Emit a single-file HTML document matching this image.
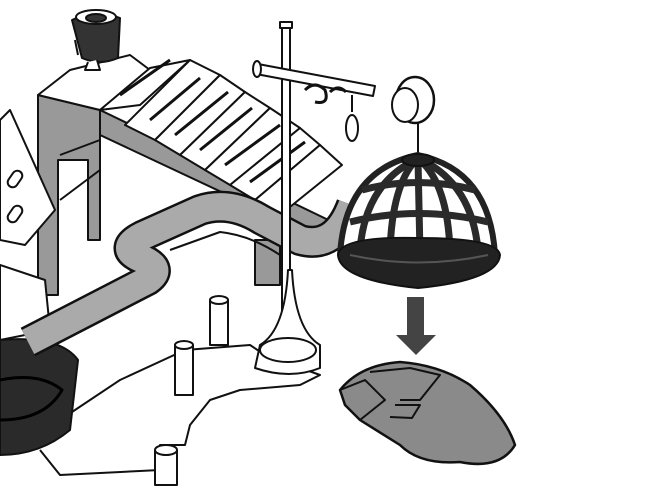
<!DOCTYPE html>
<html><head><style>html,body{margin:0;padding:0;background:#fff;width:660px;height:495px;overflow:hidden}</style></head>
<body>
<svg width="660" height="495" viewBox="0 0 660 495" xmlns="http://www.w3.org/2000/svg" stroke="#111" stroke-width="2" stroke-linejoin="round" fill="none">
<!-- staircase block -->
<polygon points="38,95 100,110 100,240 88,240 88,160 58,160 58,295 38,295" fill="#999"/>
<polygon points="100,110 345,228 345,250 100,135" fill="#999"/>
<path d="M60,155 L100,140 M60,200 L100,170"/>
<polygon points="38,95 70,70 130,55 150,70 100,110" fill="#fff"/>
<!-- steps -->
<g fill="#fff">
<polygon points="100,110 150,68 190,60 140,105 100,110"/>
<polygon points="125,125 190,60 220,75 155,140"/>
<polygon points="155,140 220,75 245,92 180,155"/>
<polygon points="180,155 245,92 270,108 205,170"/>
<polygon points="205,170 270,108 300,128 230,185"/>
<polygon points="230,185 300,128 320,145 255,200"/>
<polygon points="255,200 320,145 342,165 280,215"/>
</g>
<g stroke-width="3"><path d="M120,95 L170,60 M150,120 L200,78 M175,135 L228,92 M200,150 L252,108 M225,165 L280,125 M250,182 L305,142"/></g>
<rect x="255" y="240" width="25" height="45" fill="#999"/>
<!-- cup on top -->
<path d="M72,20 Q95,8 120,18 L118,58 Q100,66 82,58 Z" fill="#333"/>
<ellipse cx="96" cy="17" rx="20" ry="7" fill="#fff"/>
<ellipse cx="96" cy="18" rx="10" ry="4" fill="#333"/>
<path d="M78,55 L75,40 M88,62 L85,70 L100,70 L97,60" fill="#fff"/>
<!-- left roof -->
<polygon points="0,120 10,110 55,210 25,245 0,240" fill="#fff"/>
<rect x="10" y="170" width="10" height="18" rx="5" transform="rotate(35 15 179)" fill="#fff"/>
<rect x="10" y="205" width="10" height="18" rx="5" transform="rotate(35 15 214)" fill="#fff"/>
<polygon points="0,265 45,280 50,330 0,340" fill="#fff"/>
<!-- base frame -->
<path d="M60,420 L120,380 L185,350 L250,345 L265,355 L320,375 L300,385 L240,390 L210,400 L190,425 L185,445 L160,445 L160,470 L60,475 L40,450" fill="#fff"/>
<rect x="175" y="345" width="18" height="50" fill="#fff"/><ellipse cx="184" cy="345" rx="9" ry="4" fill="#fff"/>
<rect x="210" y="300" width="18" height="45" fill="#fff"/><ellipse cx="219" cy="300" rx="9" ry="4" fill="#fff"/>
<rect x="155" y="450" width="22" height="35" fill="#fff"/><ellipse cx="166" cy="450" rx="11" ry="5" fill="#fff"/>
<!-- bowl -->
<path d="M0,340 Q60,335 78,360 L70,430 Q40,455 0,455 Z" fill="#2a2a2a"/>
<path d="M0,380 Q40,372 62,390 Q45,420 0,420" stroke="#000" stroke-width="3"/>
<!-- chute -->
<path d="M28,342 L148,280 Q165,268 140,258 Q118,248 142,236 L200,210 Q230,200 262,220 L300,240 Q335,250 352,205" stroke="#111" stroke-width="32" stroke-linecap="butt"/>
<path d="M28,342 L148,280 Q165,268 140,258 Q118,248 142,236 L200,210 Q230,200 262,220 L300,240 Q335,250 352,205" stroke="#aaa" stroke-width="27" stroke-linecap="butt"/>
<path d="M170,250 L220,232 Q250,235 280,255" stroke="#111" stroke-width="2"/>
<!-- pole -->
<rect x="282" y="25" width="8" height="325" fill="#fff"/>
<rect x="280" y="22" width="12" height="6" fill="#fff"/>
<polygon points="258,64 375,86 373,96 256,74" fill="#fff"/>
<ellipse cx="257" cy="69" rx="4" ry="8" fill="#fff"/>
<path d="M305,90 q10,-10 20,0 q5,15 -10,12 M330,92 q8,-8 16,0" stroke-width="3"/>
<line x1="352" y1="95" x2="352" y2="112"/><ellipse cx="352" cy="128" rx="6" ry="13" fill="#fff"/>
<ellipse cx="415" cy="100" rx="19" ry="23" fill="#fff" stroke-width="2.5"/>
<ellipse cx="405" cy="105" rx="13" ry="17" fill="#fff"/>
<line x1="418" y1="123" x2="418" y2="155"/>
<path d="M260,345 Q285,330 288,270 L292,270 Q295,330 320,345 L320,368 Q290,380 255,368 Z" fill="#fff"/>
<ellipse cx="288" cy="350" rx="28" ry="12" fill="#fff"/>
<!-- cage -->
<path d="M340,255 Q345,170 418,155 Q490,170 495,255 Z" fill="#fff" stroke="#222" stroke-width="6"/>
<g stroke="#2a2a2a" stroke-width="7">
<path d="M360,250 Q365,185 415,160"/><path d="M390,252 Q392,185 416,160"/><path d="M420,254 L418,160"/><path d="M450,252 Q448,185 420,160"/><path d="M478,250 Q472,185 422,160"/>
<path d="M350,222 Q418,205 488,222"/>
<path d="M362,190 Q418,175 475,190"/>
</g>
<path d="M338,255 Q340,280 418,288 Q498,280 500,255 Q498,238 418,238 Q340,236 338,255 Z" fill="#222"/>
<path d="M350,255 Q418,270 488,255" stroke="#555"/>
<ellipse cx="418" cy="160" rx="16" ry="6" fill="#222"/>
<!-- arrow -->
<polygon points="407,297 424,297 424,335 436,335 416,355 396,335 407,335" fill="#444" stroke="none"/>
<!-- mouse -->
<path d="M340,390 Q360,365 400,362 Q440,365 470,385 Q505,415 515,445 Q500,470 460,462 Q420,465 400,445 L360,420 L345,405 Z" fill="#8a8a8a" stroke-width="2.5"/>
<path d="M340,390 L365,380 L385,400 L360,420 M370,372 L410,368 L440,375 L420,400 L400,400 M395,405 L420,405 L412,418 L390,417"/>
</svg>
</body></html>
